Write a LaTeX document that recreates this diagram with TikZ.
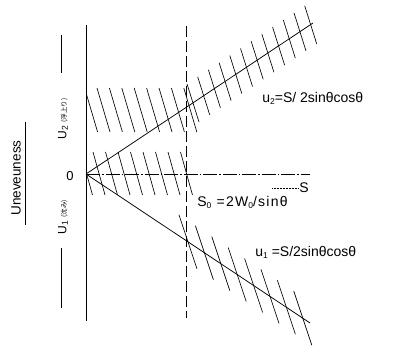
\documentclass[tikz,border=0pt]{standalone}
\usepackage{fontspec}
\setmainfont{Liberation Sans}
\newfontfamily\widefont[LetterSpace=9]{Liberation Sans}
\newfontfamily\jpfont{Noto Sans CJK JP}
\newcommand\mysub[1]{\raisebox{-0.12em}{\fontsize{8.5}{8.5}\selectfont #1}}
\begin{document}
\begin{tikzpicture}[x=1pt,y=-1pt,line width=0.75pt,
  hatch/.style={line width=0.65pt},
  formula/.style={inner sep=0pt,anchor=base west,font=\fontsize{14}{14}\selectfont},
  sidelbl/.style={inner sep=0pt,rotate=90,font=\fontsize{12}{12}\selectfont}]
\useasboundingbox (0,0) rectangle (396,347);
% axes
\coordinate (O) at (86,174);
\coordinate (LT) at (86,25);
\coordinate (LB) at (86,321);
\coordinate (DT) at (186,26);
\coordinate (DB) at (186,318);
\coordinate (HE) at (310,174);
\coordinate (U2end) at (313,23);
\coordinate (U1end) at (310,323);
\draw (LT) -- (LB);
\draw[dash pattern=on 11pt off 4pt] (DT) -- (DB);
\draw[line width=0.6pt,dash pattern=on 14pt off 2pt on 1.5pt off 2pt] (O) -- (HE);
\draw (O) -- (U2end);
\draw (O) -- (U1end);
% hatching blocks
\begin{scope}
  \clip (86,0) rectangle (396,347);
  \foreach \k in {0,...,8}
    \draw[hatch] (84.6+12.4*\k,88) -- ++(13,44);
  \foreach \k in {0,...,8}
    \draw[hatch] (80.5+12.5*\k,152) -- ++(12,43);
\end{scope}
% hatching along u2
\foreach \k in {0,...,11}{
  \pgfmathsetmacro\xc{193+10.7*\k}
  \pgfmathsetmacro\yc{174-0.664*(\xc-86)}
  \draw[hatch] (\xc-6,\yc-19) -- (\xc+6,\yc+19);
}
% hatching along u1
\foreach \k in {0,...,7}{
  \pgfmathsetmacro\xc{188+16.4*\k}
  \pgfmathsetmacro\yc{174+0.665*(\xc-86)}
  \draw[hatch] (\xc-9,\yc-27) -- (\xc+9,\yc+27);
}
% labels
\node[inner sep=0pt,font=\fontsize{13}{13}\selectfont] (zero) at (70,176) {0};
\node[sidelbl,font=\fontsize{13.5}{14}\selectfont] (uneven) at (16,178) {Uneveuness};
\coordinate (ulA) at (25,225);
\coordinate (ulB) at (25,122);
\draw[line width=0.6pt] (ulA) -- (ulB);
\node[sidelbl] (lu2) at (63,119) {U\mysub{2} {\jpfont\fontsize{6.5}{7}\selectfont (浮上り)}};
\node[sidelbl] (lu1) at (63,217) {U\mysub{1} {\jpfont\fontsize{6.5}{7}\selectfont (沈み)}};
\coordinate (t2a) at (61,35);
\coordinate (t2b) at (61,73);
\coordinate (t1a) at (61,248);
\coordinate (t1b) at (61,308);
\draw (t2a) -- (t2b);
\draw (t1a) -- (t1b);
\node[formula] (f2) at (262,103) {u\mysub{2}=S/ 2sinθcosθ};
\node[formula] (f1) at (255,257) {u\mysub{1} =S/2sinθcosθ};
\node[formula,font=\widefont\fontsize{14}{14}\selectfont] (s0) at (197,207) {S\mysub{0} =2W\mysub{0}/sinθ};
\node[formula] (S) at (299,193) {S};
\coordinate (lead) at (272,188);
\draw[line width=0.5pt,densely dotted] (lead) -- (S.west|-lead);
\end{tikzpicture}
\end{document}
